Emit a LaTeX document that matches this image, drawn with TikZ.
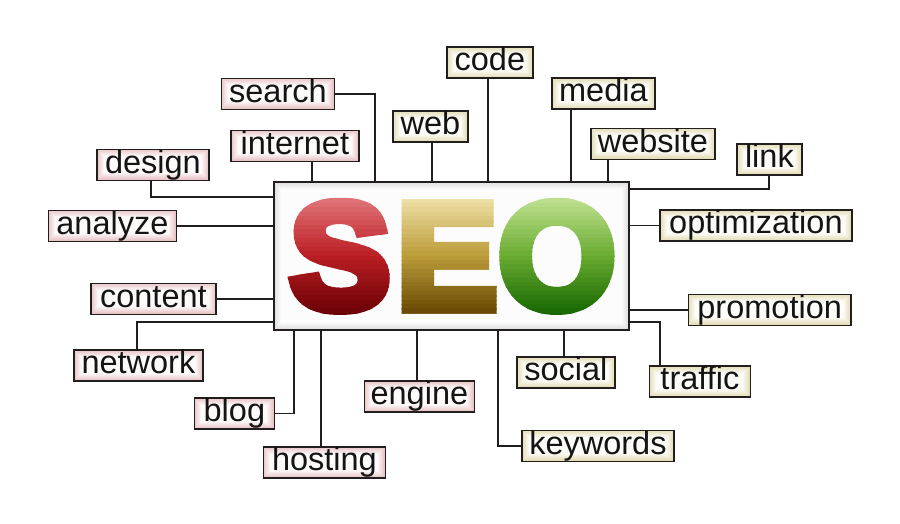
\documentclass[tikz,border=0pt]{standalone}
\usepackage{fontspec}
\setmainfont{Liberation Sans}
\newfontfamily\seofont{Liberation Sans}[BoldFeatures={FakeBold=7.3}]
\definecolor{pinkedge}{RGB}{232,196,198}
\definecolor{creamedge}{RGB}{226,220,180}
\definecolor{grayedge}{RGB}{222,222,222}
\definecolor{boxline}{RGB}{35,30,30}
\definecolor{Stop}{RGB}{228,122,126}
\definecolor{Smid}{RGB}{186,30,36}
\definecolor{Sbot}{RGB}{104,0,4}
\definecolor{Etop}{RGB}{240,228,172}
\definecolor{Emid}{RGB}{188,156,58}
\definecolor{Ebot}{RGB}{100,68,0}
\definecolor{Otop}{RGB}{196,228,150}
\definecolor{Omid}{RGB}{106,172,48}
\definecolor{Obot}{RGB}{20,100,0}
\tikzset{
  vignette/.style={path picture={
    \foreach \k in {0,...,7}{
      \pgfmathtruncatemacro\pc{100-\k*13}
      \fill[#1!\pc!white] ([shift={(\k pt,-\k pt)}]path picture bounding box.north west)
        rectangle ([shift={(-\k pt,\k pt)}]path picture bounding box.south east);
    }}},
  lbl/.style={draw=boxline, line width=1.8pt, inner sep=0pt, anchor=north west,
    minimum height=31pt, text height=24pt, text depth=7pt, text=black!92,
    font=\fontsize{32.5}{36}\selectfont},
  pinkbox/.style={lbl, vignette=pinkedge},
  creambox/.style={lbl, vignette=creamedge},
  conn/.style={draw=boxline, line width=1.8pt},
  letter/.style={anchor=base, inner sep=0pt, font=\seofont\bfseries\fontsize{150}{150}\selectfont}
}
\begin{document}
\begin{tikzpicture}[x=1pt,y=-1pt]
\useasboundingbox (0,0) rectangle (900,523);
\fill[white] (0,0) rectangle (900,523);

% main box
\node[draw=boxline, line width=2pt, vignette=grayedge, anchor=north west,
  minimum width=355pt, minimum height=148pt, inner sep=0pt] (main) at (273,181) {};

% SEO letters with vertical gradient (banded)
\foreach \i in {0,...,29}{
  \pgfmathsetmacro\yy{190+4.4*\i}
  \pgfmathsetmacro\pp{min(max((\yy+2.2-196)/120,0),1)}
  \pgfmathsetmacro\qa{100*max(1-2*\pp,0)}
  \pgfmathsetmacro\qb{100*min(max(2-2*\pp,0),100)}
  \ifdim\pp pt<0.5pt
    \colorlet{cS}{Stop!\qa!Smid}\colorlet{cE}{Etop!\qa!Emid}\colorlet{cO}{Otop!\qa!Omid}
  \else
    \colorlet{cS}{Smid!\qb!Sbot}\colorlet{cE}{Emid!\qb!Ebot}\colorlet{cO}{Omid!\qb!Obot}
  \fi
  \begin{scope}
    \clip (280,\yy) rectangle (622,\yy+4.9);
    \node[letter, text=cS] (lS-\i) at (340,308) {S};
    \node[letter, text=cE] (lE-\i) at (447,308) {E};
    \node[letter, text=cO] (lO-\i) at (557,308) {O};
  \end{scope}
}

% labels (pink)
\node[pinkbox, minimum width=113pt] (search) at (220.5,77.5) {search};
\node[pinkbox, minimum width=128pt] (internet) at (230,129.5) {internet};
\node[pinkbox, minimum width=112pt] (design) at (96,148.5) {design};
\node[pinkbox, minimum width=128pt] (analyze) at (47.5,209.5) {analyze};
\node[pinkbox, minimum width=125pt] (content) at (90,282.5) {content};
\node[pinkbox, minimum width=129pt] (network) at (73,349) {network};
\node[pinkbox, minimum width=80pt] (blog) at (193.5,397) {blog};
\node[pinkbox, minimum width=122pt] (hosting) at (262.5,446) {hosting};
\node[pinkbox, minimum width=110pt] (engine) at (363.5,380) {engine};
% labels (cream)
\node[creambox, minimum width=75pt] (web) at (392,110) {web};
\node[creambox, minimum width=86pt] (code) at (446,46) {code};
\node[creambox, minimum width=103pt] (media) at (551,77) {media};
\node[creambox, minimum width=124pt] (website) at (590,127.5) {website};
\node[creambox, minimum width=65pt] (link) at (736,143) {link};
\node[creambox, minimum width=192pt] (optimization) at (659,209) {optimization};
\node[creambox, minimum width=162.5pt] (promotion) at (687.5,293.5) {promotion};
\node[creambox, minimum width=101pt] (traffic) at (648.5,365) {traffic};
\node[creambox, minimum width=98pt] (social) at (516,356) {social};
\node[creambox, minimum width=152pt] (keywords) at (521,429.5) {keywords};

% connectors
\draw[conn] (search.east) -| (375,0 |- main.north);
\draw[conn] (312,0 |- internet.south) -- (312,0 |- main.north);
\draw[conn] (151,0 |- design.south) |- (main.west |- 0,197);
\draw[conn] (analyze.east) -- (main.west |- analyze.east);
\draw[conn] (432,0 |- web.south) -- (432,0 |- main.north);
\draw[conn] (488,0 |- code.south) -- (488,0 |- main.north);
\draw[conn] (571,0 |- media.south) -- (571,0 |- main.north);
\draw[conn] (608,0 |- website.south) -- (608,0 |- main.north);
\draw[conn] (769,0 |- link.south) |- (main.east |- 0,188.7);
\draw[conn] (optimization.west) -- (main.east |- optimization.west);
\draw[conn] (content.east) -- (main.west |- content.east);
\draw[conn] (137.3,0 |- network.north) |- (main.west |- 0,322.3);
\draw[conn] (blog.east) -| (294.3,0 |- main.south);
\draw[conn] (320.7,0 |- hosting.north) -- (320.7,0 |- main.south);
\draw[conn] (416.7,0 |- engine.north) -- (416.7,0 |- main.south);
\draw[conn] (promotion.west) -- (main.east |- promotion.west);
\draw[conn] (660,0 |- traffic.north) |- (main.east |- 0,321.7);
\draw[conn] (564.3,0 |- social.north) -- (564.3,0 |- main.south);
\draw[conn] (keywords.west) -| (497.7,0 |- main.south);
\end{tikzpicture}
\end{document}
